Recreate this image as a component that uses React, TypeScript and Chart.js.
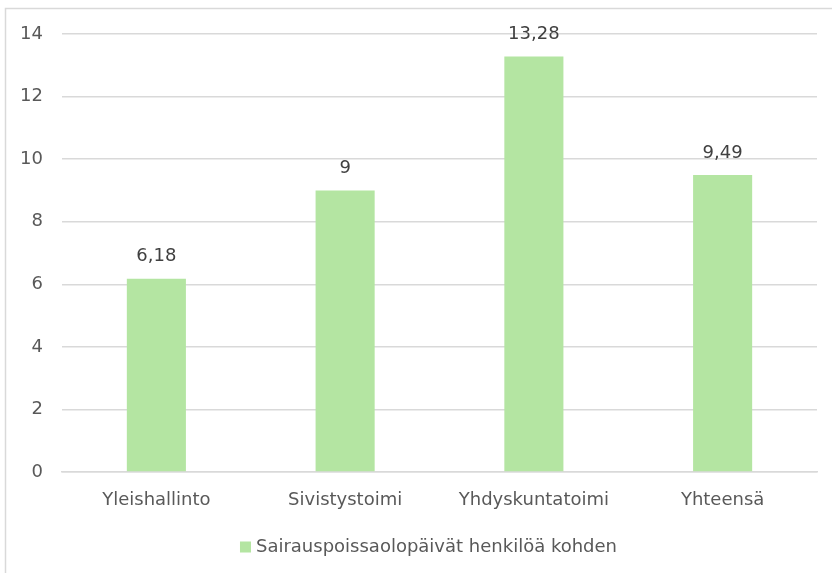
import React, { useEffect, useRef } from "react";
import { Chart, registerables } from "chart.js";

Chart.register(...registerables);

const categories = ["Yleishallinto", "Sivistystoimi", "Yhdyskuntatoimi", "Yhteensä"];
const values = [6.18, 9, 13.28, 9.49];
const seriesLabel = "Sairauspoissaolopäivät henkilöä kohden";
const barColor = "#b4e5a2";
const FONT = "'DejaVu Sans', 'Noto Sans', sans-serif";

const frame = {
  id: "frame",
  beforeDraw(chart: any) {
    const ctx = chart.ctx;
    ctx.save();
    ctx.fillStyle = "#ffffff";
    ctx.fillRect(0, 0, chart.width, chart.height);
    ctx.strokeStyle = "#d9d9d9";
    ctx.lineWidth = 1.5;
    ctx.strokeRect(5.5, 8.5, chart.width + 20, chart.height + 20);
    ctx.restore();
  },
};

const dataLabels = {
  id: "dataLabels",
  afterDatasetsDraw(chart: any) {
    const ctx = chart.ctx;
    const meta = chart.getDatasetMeta(0);
    ctx.save();
    ctx.font = `18px ${FONT}`;
    ctx.fillStyle = "#404040";
    ctx.textAlign = "center";
    ctx.textBaseline = "middle";
    meta.data.forEach((bar: any, i: number) => {
      const v = values[i];
      const txt = String(v).replace(".", ",");
      ctx.fillText(txt, bar.x, bar.y - 22);
    });
    ctx.restore();
  },
};

const bottomLegend = {
  id: "bottomLegend",
  afterDraw(chart: any) {
    const ctx = chart.ctx;
    ctx.save();
    ctx.font = `18px ${FONT}`;
    const label = chart.data.datasets[0].label;
    const tw = ctx.measureText(label).width;
    const box = 11;
    const gap = 5;
    const total = box + gap + tw;
    const cx = (5 + chart.width + 20) / 2;
    const x0 = cx - total / 2;
    const cy = chart.chartArea.bottom + 75;
    ctx.fillStyle = chart.data.datasets[0].backgroundColor;
    ctx.fillRect(x0, cy - box / 2, box, box);
    ctx.fillStyle = "#595959";
    ctx.textAlign = "left";
    ctx.textBaseline = "middle";
    ctx.fillText(label, x0 + box + gap, cy);
    ctx.restore();
  },
};

export default function App() {
  const ref = useRef<HTMLCanvasElement>(null);
  useEffect(() => {
    const chart = new Chart(ref.current!, {
      type: "bar",
      data: {
        labels: categories,
        datasets: [
          {
            label: seriesLabel,
            data: values,
            backgroundColor: barColor,
            barPercentage: 0.313,
            categoryPercentage: 1,
          },
        ],
      },
      options: {
        animation: false,
        responsive: false,
        maintainAspectRatio: false,
        layout: { padding: { left: 0, right: 15, top: 34, bottom: 45 } },
        plugins: {
          legend: { display: false },
          tooltip: { enabled: false },
        },
        scales: {
          x: {
            grid: { display: false },
            border: { color: "#d9d9d9", width: 1.5 },
            ticks: { font: { family: FONT, size: 18 }, color: "#595959", padding: 10 },
            afterFit(scale: any) {
              scale.height = 56;
            },
          },
          y: {
            min: 0,
            max: 14,
            ticks: {
              stepSize: 2,
              font: { family: FONT, size: 18 },
              color: "#595959",
              padding: 19,
            },
            grid: { color: "#d9d9d9", lineWidth: 1.5, drawTicks: false },
            border: { display: false },
            afterFit(scale: any) {
              scale.width = 62;
            },
          },
        },
      },
      plugins: [frame, dataLabels, bottomLegend],
    });
    return () => chart.destroy();
  }, []);
  return (
    <div style={{ position: "absolute", left: 0, top: 0, width: 832, height: 573 }}>
      <canvas ref={ref} width={832} height={573} style={{ display: "block" }} />
    </div>
  );
}
